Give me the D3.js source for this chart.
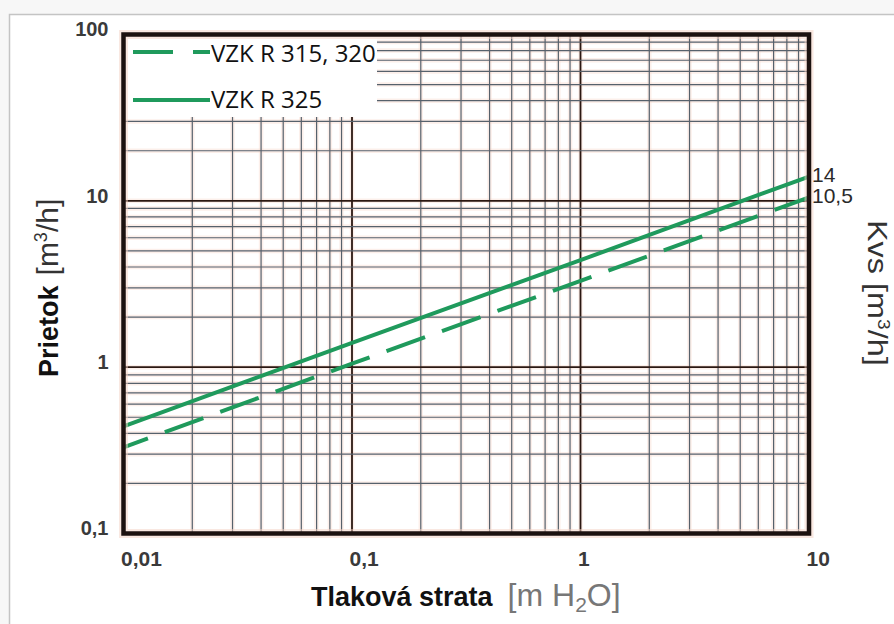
<!DOCTYPE html>
<html lang="sk">
<head>
    <meta charset="UTF-8" />
    <title>Prietok vs. tlaková strata</title>
    <script src="https://d3js.org/d3.v7.min.js"></script>
    <style>
        html, body {
            margin: 0;
            padding: 0;
            background: #f7f7f7;
        }
        svg {
            display: block;
        }
    </style>
</head>
<body>
<svg id="chart"></svg>

<script>
    // values
    const pressureDrop = [0.01, 0.1, 1, 10];          // m H2O
    const flowR315 = [0.33, 1.05, 3.3, 10.5];         // VZK R 315, 320
    const flowR325 = [0.44, 1.4, 4.4, 14];            // VZK R 325
    const seriesNames = ["VZK R 315, 320", "VZK R 325"];
    const kvsValues = [14, 10.5];
    const kvsLabels = ["14", "10,5"];
    const xTickValues = [0.01, 0.1, 1, 10];
    const xTickLabels = ["0,01", "0,1", "1", "10"];
    const yTickValues = [0.1, 1, 10, 100];
    const yTickLabels = ["0,1", "1", "10", "100"];

    const width = 894, height = 624;
    const margin = { top: 34.5, right: 85, bottom: 90.5, left: 123.5 };
    const green = "#1f9a5c";

    const svg = d3.select("#chart").attr("width", width).attr("height", height);

    // page frame
    svg.append("rect")
        .attr("x", 9.5).attr("y", 14.5)
        .attr("width", width).attr("height", height)
        .attr("fill", "#fff")
        .attr("stroke", "#c4c4c4")
        .attr("stroke-width", 1.5);

    const x = d3.scaleLog().domain([0.01, 10]).range([margin.left, width - margin.right]);
    const y = d3.scaleLog().domain([0.1, 100]).range([height - margin.bottom, margin.top]);

    const x0 = x.range()[0], x1 = x.range()[1];
    const y0 = y.range()[1], y1 = y.range()[0];

    const isDecade = v => Math.abs(Math.log10(v) - Math.round(Math.log10(v))) < 1e-9;

    const xGrid = x.ticks().filter(v => v > 0.01 && v < 10);
    const yGrid = y.ticks().filter(v => v > 0.1 && v < 100);

    const grid = svg.append("g");

    // pale salmon halo under every grid line
    const halo = grid.append("g").attr("stroke", "#f7d8ca").attr("stroke-width", 4.5).attr("stroke-opacity", 0.4);
    halo.selectAll("line.v").data(xGrid).join("line")
        .attr("x1", d => x(d)).attr("x2", d => x(d)).attr("y1", y0).attr("y2", y1);
    halo.selectAll("line.h").data(yGrid).join("line")
        .attr("y1", d => y(d)).attr("y2", d => y(d)).attr("x1", x0).attr("x2", x1);

    const lines = grid.append("g");
    lines.selectAll("line.v").data(xGrid).join("line")
        .attr("x1", d => x(d)).attr("x2", d => x(d)).attr("y1", y0).attr("y2", y1)
        .attr("stroke", d => isDecade(d) ? "#2b1812" : "#56616c")
        .attr("stroke-width", d => isDecade(d) ? 1.8 : 1.2);
    lines.selectAll("line.h").data(yGrid).join("line")
        .attr("y1", d => y(d)).attr("y2", d => y(d)).attr("x1", x0).attr("x2", x1)
        .attr("stroke", d => isDecade(d) ? "#2b1812" : "#56616c")
        .attr("stroke-width", d => isDecade(d) ? 1.8 : 1.2);

    // legend box sits over the grid
    svg.append("rect")
        .attr("x", x0).attr("y", y0)
        .attr("width", 377 - x0).attr("height", 117 - y0)
        .attr("fill", "#fff");

    // curves
    const line = d3.line()
        .x((d, i) => x(pressureDrop[i]))
        .y(d => y(d));

    svg.append("path")
        .attr("d", line(flowR325))
        .attr("fill", "none")
        .attr("stroke", green)
        .attr("stroke-width", 4);

    svg.append("path")
        .attr("d", line(flowR315))
        .attr("fill", "none")
        .attr("stroke", green)
        .attr("stroke-width", 4)
        .attr("stroke-dasharray", "41,18")
        .attr("stroke-dashoffset", 15);

    // plot border
    svg.append("rect")
        .attr("x", x0).attr("y", y0)
        .attr("width", x1 - x0).attr("height", y1 - y0)
        .attr("fill", "none")
        .attr("stroke", "#f3d2c4")
        .attr("stroke-width", 9)
        .attr("stroke-opacity", 0.5);
    svg.append("rect")
        .attr("x", x0).attr("y", y0)
        .attr("width", x1 - x0).attr("height", y1 - y0)
        .attr("fill", "none")
        .attr("stroke", "#1c1210")
        .attr("stroke-width", 4.5);

    // legend
    const legend = svg.append("g").attr("font-family", "'Open Sans', sans-serif").attr("font-size", 24).attr("fill", "#111");
    legend.append("line")
        .attr("x1", 133).attr("x2", 210).attr("y1", 52).attr("y2", 52)
        .attr("stroke", green).attr("stroke-width", 4)
        .attr("stroke-dasharray", "40,20");
    legend.append("line")
        .attr("x1", 133).attr("x2", 210).attr("y1", 100).attr("y2", 100)
        .attr("stroke", green).attr("stroke-width", 4);
    legend.append("text").attr("x", 211).attr("y", 62).text(seriesNames[0]);
    legend.append("text").attr("x", 211).attr("y", 108).text(seriesNames[1]);

    // tick labels
    const xAxis = d3.axisBottom(x)
        .tickValues(xTickValues)
        .tickSize(0)
        .tickFormat((d, i) => xTickLabels[i]);
    const gx = svg.append("g")
        .attr("transform", `translate(0,${y1 + 15})`)
        .call(xAxis);
    gx.select(".domain").remove();
    gx.selectAll("text")
        .attr("text-anchor", "start")
        .attr("dx", -3)
        .attr("font-family", "'Liberation Sans', Arial, sans-serif")
        .attr("font-size", 21)
        .attr("font-weight", "bold")
        .attr("fill", "#3a3a3a");

    const yAxis = d3.axisLeft(y)
        .tickValues(yTickValues)
        .tickSize(0)
        .tickFormat((d, i) => yTickLabels[i]);
    const gy = svg.append("g")
        .attr("transform", `translate(${x0 - 12},-5)`)
        .call(yAxis);
    gy.select(".domain").remove();
    gy.selectAll("text")
        .attr("font-family", "'Liberation Sans', Arial, sans-serif")
        .attr("font-size", 20)
        .attr("font-weight", "bold")
        .attr("fill", "#3a3a3a");

    // Kvs values at the right edge
    svg.append("g")
        .attr("font-family", "'Liberation Sans', Arial, sans-serif")
        .attr("font-size", 21)
        .attr("fill", "#2a2a2a")
        .selectAll("text")
        .data(kvsValues)
        .join("text")
        .attr("x", x1 + 3)
        .attr("y", d => y(d) - 2)
        .attr("dy", "0.35em")
        .text((d, i) => kvsLabels[i]);

    // axis titles
    const xt = svg.append("text")
        .attr("x", 311).attr("y", 606)
        .attr("font-family", "'Liberation Sans', Arial, sans-serif");
    xt.append("tspan").attr("font-size", 27).attr("font-weight", "bold").attr("fill", "#111").text("Tlaková strata");
    xt.append("tspan").attr("dx", 15).attr("font-size", 32).attr("fill", "#777").text("[m H");
    xt.append("tspan").attr("font-size", 21).attr("dy", 6).attr("fill", "#777").text("2");
    xt.append("tspan").attr("font-size", 32).attr("dy", -6).attr("fill", "#777").text("O]");

    const yt = svg.append("text")
        .attr("transform", "translate(58,377) rotate(-90)")
        .attr("font-family", "'Liberation Sans', Arial, sans-serif");
    yt.append("tspan").attr("font-size", 27).attr("font-weight", "bold").attr("fill", "#111").text("Prietok");
    yt.append("tspan").attr("dx", 10).attr("font-size", 30).attr("fill", "#333").text("[m");
    yt.append("tspan").attr("font-size", 18).attr("dy", -11).attr("fill", "#333").text("3");
    yt.append("tspan").attr("font-size", 30).attr("dy", 11).attr("fill", "#333").text("/h]");

    const rt = svg.append("text")
        .attr("transform", "translate(868,220) rotate(90) scale(1.2,1)")
        .attr("font-family", "'Liberation Sans', Arial, sans-serif")
        .attr("fill", "#333");
    rt.append("tspan").attr("font-size", 27).text("Kvs [m");
    rt.append("tspan").attr("font-size", 16).attr("dy", -10).text("3");
    rt.append("tspan").attr("font-size", 27).attr("dy", 10).text("/h]");
</script>
</body>
</html>
